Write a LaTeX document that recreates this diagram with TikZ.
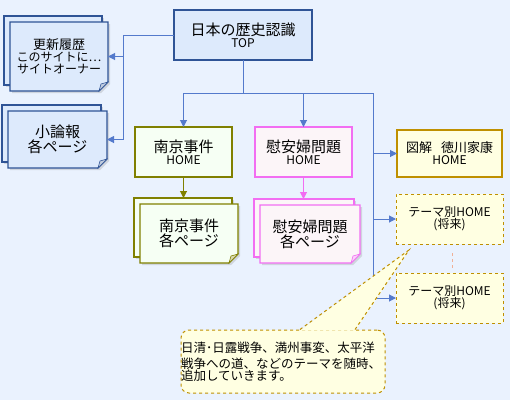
\documentclass[tikz,border=0pt]{standalone}
\usepackage{fontspec}
\setmainfont{Noto Sans CJK JP}
\usetikzlibrary{positioning, shadows, arrows.meta}
\tikzstyle{siteMap} = [x = 1pt, y = -1pt]
\definecolor{bgColor}{RGB}{234,242,254}
\definecolor{linkColor}{RGB}{84,122,204}
\definecolor{topFill}{RGB}{221,234,252}
\definecolor{topLine}{RGB}{47,84,150}
\definecolor{nanLine}{RGB}{128,128,0}
\definecolor{nanFill}{RGB}{246,255,244}
\definecolor{ianLine}{RGB}{242,110,242}
\definecolor{ianFill}{RGB}{252,245,248}
\definecolor{tokuLine}{RGB}{191,144,0}
\definecolor{tokuFill}{RGB}{255,255,226}
\definecolor{themeGap}{RGB}{240,176,150}
\tikzstyle{pageBox} = [draw, line width = 1.1pt, align = center, inner sep = 0pt, outer sep = 0pt]
\tikzstyle{themeBox} = [pageBox, draw = tokuLine, fill = tokuFill, dashed, line width = 1pt, minimum width = 107pt, minimum height = 50pt]
\tikzstyle{docStyle} = [line width = 1.1pt, drop shadow = {shadow xshift = 2pt, shadow yshift = -2pt, opacity = .25}]
\tikzstyle{docText} = [align = center, inner sep = 0pt]
\tikzstyle{busLine} = [color = linkColor, line width = 1pt]
\tikzstyle{link} = [busLine, -{Triangle[length = 7pt, width = 7pt]}]
\tikzstyle{noteStyle} = [draw = tokuLine, fill = tokuFill, dashed, line width = 1pt, rounded corners = 8pt, align = left, text width = 204pt, inner sep = 0pt]
\newcommand{\bigText}{\fontsize{15}{19}\selectfont}
\newcommand{\midText}{\fontsize{12}{16}\selectfont}
\newcommand{\smallText}{\fontsize{12}{16}\selectfont}
\newcommand{\noteText}{\fontsize{12.5}{16}\selectfont}
\newcommand{\docStack}[7]{
  \path (#2) node [minimum width = #3, minimum height = #4, inner sep = 0pt, outer sep = 0pt] (#1) {};
  \coordinate (#1Back) at ([xshift = -6pt, yshift = 6pt]#1.north);
  \filldraw [docStyle, draw = #5, fill = #6] ([xshift = -6pt, yshift = 6pt]#1.north west) rectangle ([xshift = -6pt, yshift = 6pt]#1.south east);
  \filldraw [docStyle, draw = #5, fill = #6] (#1.north west) -- (#1.north east) -- ([yshift = 9pt]#1.south east) -- ([xshift = -9pt]#1.south east) -- (#1.south west) -- cycle;
  \filldraw [draw = #5, fill = #5!30!white, line width = .6pt] ([yshift = 9pt]#1.south east) -- ([xshift = -9pt]#1.south east) -- ([xshift = -7pt, yshift = 7pt]#1.south east) -- cycle;
  \node [docText] at (#1) {#7};
}
\begin{document}
\begin{tikzpicture}[siteMap]
  \fill [bgColor] (0,0) rectangle (510,400);
  \useasboundingbox (0,0) rectangle (510,400);
  \node [pageBox, draw = topLine, fill = topFill, minimum width = 138pt, minimum height = 50pt] (top) at (243,35) {\bigText 日本の歴史認識\\\midText TOP};
  \docStack{upd}{59,56.5}{98pt}{69pt}{topLine}{topFill}{\fontsize{13}{17}\selectfont 更新履歴\\\smallText このサイトに…\\\smallText サイトオーナー}
  \docStack{ron}{57.5,139.5}{99pt}{57pt}{topLine}{topFill}{\bigText 小論報\\\bigText 各ページ}
  \node [pageBox, draw = nanLine, fill = nanFill, minimum width = 97pt, minimum height = 50pt] (nanHome) at (183.5,152) {\bigText 南京事件\\\midText HOME};
  \node [pageBox, draw = ianLine, fill = ianFill, minimum width = 97pt, minimum height = 50pt] (ianHome) at (303.5,152) {\bigText 慰安婦問題\\\midText HOME};
  \node [pageBox, draw = tokuLine, fill = tokuFill, minimum width = 105pt, minimum height = 47pt] (toku) at (449.5,153.5) {\fontsize{13}{18}\selectfont 図解\hspace{9pt}徳川家康\\\midText HOME};
  \docStack{nanDoc}{189,233.5}{98pt}{59pt}{nanLine}{nanFill}{\bigText 南京事件\\\bigText 各ページ}
  \docStack{ianDoc}{310,234}{100pt}{58pt}{ianLine}{ianFill}{\bigText 慰安婦問題\\\bigText 各ページ}
  \node [themeBox] (theme1) at (449.5,219) {\midText テーマ別HOME\\\midText (将来)};
  \node [themeBox] (theme2) at (449.5,298) {\midText テーマ別HOME\\\midText (将来)};
  \coordinate (leftBus) at (123,35);
  \coordinate (midBus) at (243,93);
  \coordinate (rightBus) at (373,93);
  \draw [link] (top.west) -- (leftBus) |- (upd.east);
  \draw [link] (leftBus) |- (ron.east);
  \draw [busLine] (top.south) -- (midBus);
  \draw [link] (midBus) -| (nanHome.north);
  \draw [link] (midBus) -| (ianHome.north);
  \draw [busLine] (midBus) -- (rightBus) -- (rightBus |- theme2.west);
  \draw [link] (rightBus |- toku.west) -- (toku.west);
  \draw [link] (rightBus |- theme1.west) -- (theme1.west);
  \draw [link] (rightBus |- theme2.west) -- (theme2.west);
  \draw [link, color = nanLine] (nanHome.south) -- (nanHome.south |- nanDocBack);
  \draw [link, color = ianLine] (ianHome.south) -- (ianHome.south |- ianDocBack);
  \draw [color = themeGap, dashed, line width = .8pt] ([xshift = 3pt, yshift = -9pt]theme1.south) -- ([xshift = 3pt, yshift = 5pt]theme2.north);
  \node [noteStyle, minimum height = 63pt] (note) at (283,361.5) {\noteText 日清･日露戦争、満州事変、太平洋\\戦争への道、などのテーマを随時、\\追加していきます。};
  \coordinate (noteTip) at (409,250);
  \fill [tokuFill] ([xshift = 17pt, yshift = -1.2pt]note.north) -- (noteTip) -- ([xshift = 72pt, yshift = -1.2pt]note.north) -- cycle;
  \draw [draw = tokuLine, dashed, line width = 1pt] ([xshift = 17pt]note.north) -- (noteTip) -- ([xshift = 72pt]note.north);
\end{tikzpicture}
\end{document}
